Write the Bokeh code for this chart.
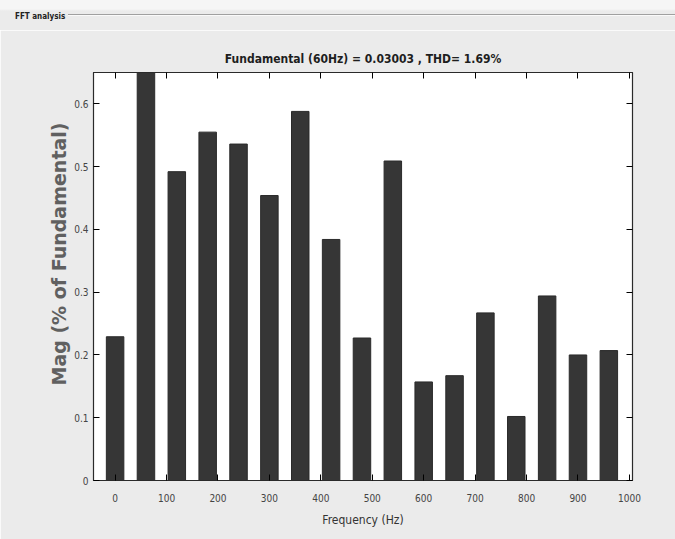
from bokeh.plotting import figure
from bokeh.layouts import column
from bokeh.models import FixedTicker, LinearAxis, Range1d, ColumnDataSource, Div, Title
from bokeh.embed import file_html
from bokeh.resources import INLINE

# ---- data ----
freqs = [0, 60, 120, 180, 240, 300, 360, 420, 480, 540, 600, 660, 720, 780, 840, 900, 960]
mags = [0.229, 100.0, 0.492, 0.555, 0.536, 0.454, 0.588, 0.384, 0.227, 0.509,
        0.157, 0.167, 0.267, 0.102, 0.294, 0.200, 0.207]
x_ticks = [0, 100, 200, 300, 400, 500, 600, 700, 800, 900, 1000]
y_ticks = [0, 0.1, 0.2, 0.3, 0.4, 0.5, 0.6]
y_tick_labels = ["0", "0.1", "0.2", "0.3", "0.4", "0.5", "0.6"]
title_text = "Fundamental (60Hz) = 0.03003 , THD= 1.69%"
panel_text = "FFT analysis"
x_label = "Frequency (Hz)"
y_label = "Mag (% of Fundamental)"

NARROW = "'Liberation Sans Narrow', 'DejaVu Sans Condensed', sans-serif"
BG = "#ebebeb"

# ---- header strip: group-box caption and line ----
HEAD_H = 30
head = Div(width=675, height=HEAD_H, margin=0, text=(
    f'<div style="position:relative;width:675px;height:{HEAD_H}px;'
    f'background:linear-gradient(#f6f6f6 0px,#f6f6f6 9px,{BG} 11px,{BG} 100%);'
    f'font-family:DejaVu Sans Condensed,Liberation Sans,sans-serif;">'
    f'<span style="position:absolute;left:15px;top:12px;font-size:8px;color:#222;'
    f'font-weight:bold;line-height:10px;white-space:nowrap;">{panel_text}</span>'
    f'<div style="position:absolute;left:68px;right:0;top:14px;height:0;'
    f'border-top:1.5px solid #a0a0a0;border-bottom:1px solid #fafafa;"></div></div>'))

# ---- main chart ----
src = ColumnDataSource(dict(f=freqs, m=mags))

p = figure(width=675, height=539 - HEAD_H, output_backend="svg", toolbar_location=None,
           x_range=Range1d(-42, 1006), y_range=Range1d(0, 0.65),
           min_border_left=93, min_border_right=43, min_border_top=72 - HEAD_H,
           min_border_bottom=59)
p.title.text = title_text
p.title.align = "center"
p.title.text_font = NARROW
p.title.text_font_size = "12px"
p.title.text_font_style = "bold"
p.title.text_color = "#1e1e1e"
p.title.standoff = 14

p.background_fill_color = "white"
p.border_fill_color = BG
p.outline_line_color = "#2a2a2a"
p.outline_line_width = 1.2
p.grid.visible = False

p.vbar(x="f", top="m", bottom=0, width=34, source=src,
       fill_color="#363636", line_color="#2a2a2a")

ax = p.xaxis[0]
ax.ticker = FixedTicker(ticks=x_ticks)
ax.axis_label = x_label
ax.axis_label_text_font = NARROW
ax.axis_label_text_font_style = "normal"
ax.axis_label_text_font_size = "12px"
ax.axis_label_text_color = "#333333"
ax.axis_label_standoff = 8
ax.major_label_text_font = NARROW
ax.major_label_text_font_size = "10px"
ax.major_label_text_color = "#444444"
ax.major_label_standoff = 13
ax.major_tick_in = 6
ax.major_tick_out = 0
ax.minor_tick_line_color = None
ax.axis_line_color = "#2a2a2a"

ay = p.yaxis[0]
ay.ticker = FixedTicker(ticks=y_ticks)
ay.major_label_overrides = {t: s for t, s in zip(y_ticks, y_tick_labels)}
ay.major_label_text_font = NARROW
ay.major_label_text_font_size = "10px"
ay.major_label_text_color = "#444444"
ay.major_label_standoff = 5
ay.major_tick_in = 6
ay.major_tick_out = 0
ay.minor_tick_line_color = None
ay.axis_line_color = "#2a2a2a"

# y label as a side title so it can sit a little above the frame centre
p.add_layout(Title(text=y_label, align="right", offset=50, standoff=3,
                   text_font="DejaVu Sans", text_font_style="bold",
                   text_font_size="19px", text_color="#606060"), "left")

# mirrored ticks on top and right (MATLAB box)
top = LinearAxis(ticker=FixedTicker(ticks=x_ticks), major_label_text_alpha=0,
                 major_label_text_font_size="1px", major_tick_in=6, major_tick_out=0,
                 minor_tick_line_color=None, axis_line_color="#2a2a2a")
right = LinearAxis(ticker=FixedTicker(ticks=y_ticks), major_label_text_alpha=0,
                   major_label_text_font_size="1px", major_tick_in=6, major_tick_out=0,
                   minor_tick_line_color=None, axis_line_color="#2a2a2a")
p.add_layout(top, "above")
p.add_layout(right, "right")

layout = column(head, p, spacing=0)
open("out.html", "w").write(file_html(layout, INLINE))
